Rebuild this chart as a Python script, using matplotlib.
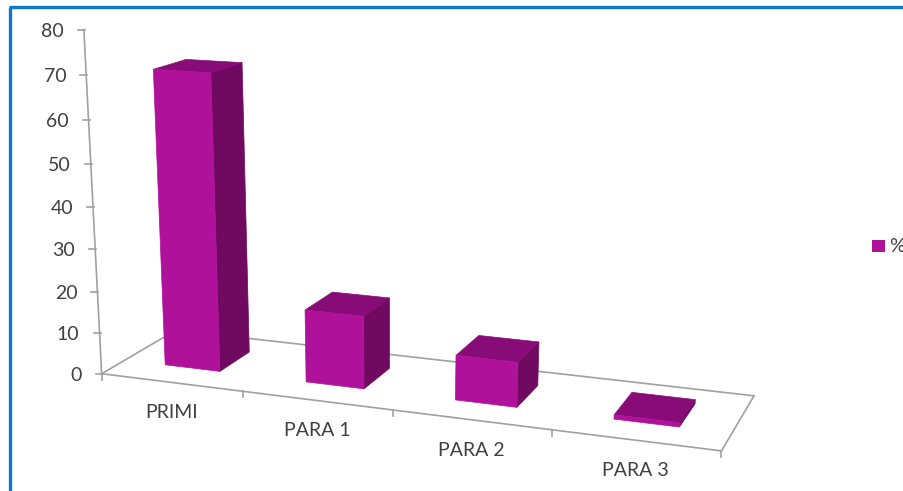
import numpy as np
import matplotlib
matplotlib.use("Agg")
import matplotlib.pyplot as plt
from matplotlib.patches import Polygon, Rectangle

plt.rcParams['font.family'] = ['Lato', 'DejaVu Sans']

categories = ["PRIMI", "PARA 1", "PARA 2", "PARA 3"]
values = [70.2, 17.3, 10.5, 1.0]
y_ticks = [0, 10, 20, 30, 40, 50, 60, 70, 80]
series_name = "%"

FRONT, SIDE, TOP = "#B0119A", "#6F0A60", "#880C78"
GREY, TEXT, BLUE = "#A0A0A0", "#404040", "#0F77C8"

# Camera calibration of the chart's perspective: (category, value, depth) -> pixel
calib = [
    ((0, 0, 0), (101, 373)), ((1, 0, 0), (243, 392)), ((2, 0, 0), (393, 412)),
    ((3, 0, 0), (551, 429)), ((4, 0, 0), (722, 450)), ((0, 0, 1), (176, 330)),
    ((4, 0, 1), (754, 396)), ((0, 80, 0), (83.5, 30)), ((0, 40, 0), (94, 206)),
]
vanish = (390, 5900)

rows = []
for (c, v, d), (u, w) in calib:
    u, w, v = u / 1000, w / 1000, v / 80
    rows.append([c, v, d, 1, 0, 0, 0, 0, -u*c, -u*v, -u*d, -u])
    rows.append([0, 0, 0, 0, c, v, d, 1, -w*c, -w*v, -w*d, -w])
vu, vw = vanish[0] / 1000, vanish[1] / 1000
rows.append([0, 1, 0, 0, 0, 0, 0, 0, 0, -vu, 0, 0])
rows.append([0, 0, 0, 0, 0, 1, 0, 0, 0, -vw, 0, 0])
P = np.linalg.svd(np.array(rows, float))[2][-1].reshape(3, 4)


def proj(c, v, d):
    h = P @ np.array([c, v / 80, d, 1.0])
    return h[0] / h[2] * 1000, h[1] / h[2] * 1000


fig = plt.figure(figsize=(9.04, 4.91), dpi=100)
ax = fig.add_axes([0, 0, 1, 1])
ax.set_xlim(0, 904)
ax.set_ylim(491, 0)
ax.axis("off")

# outer frame
ax.plot([10, 10], [491, 6.5], color=BLUE, lw=2.4, solid_capstyle="butt", zorder=5)
ax.plot([9, 904], [6.5, 6.5], color=BLUE, lw=2.4, solid_capstyle="butt", zorder=5)


def line(a, b, **kw):
    pa, pb = proj(*a), proj(*b)
    ax.plot([pa[0], pb[0]], [pa[1], pb[1]], color=GREY, lw=1.2, zorder=1, **kw)


n = len(categories)
line((0, 0, 0), (0, y_ticks[-1], 0))
line((0, 0, 0), (n, 0, 0))
line((0, 0, 0), (0, 0, 1))
line((0, 0, 1), (n, 0, 1))
line((n, 0, 0), (n, 0, 1))

for t in y_ticks:
    x, y = proj(0, t, 0)
    ax.plot([x - 6, x + 1], [y, y], color=GREY, lw=1.2, zorder=1)
    ax.text(x - 20, y + 1.5, str(t), ha="right", va="center", fontsize=14, color=TEXT)

for i in range(n + 1):
    x, y = proj(i, 0, 0)
    ax.plot([x, x], [y, y + 6], color=GREY, lw=1.2, zorder=1)

# bars
x_off, bar_w, z0, z1 = 0.295, 0.395, 0.30, 0.73
for i, val in enumerate(values):
    a, b = i + x_off, i + x_off + bar_w
    front = [proj(a, 0, z0), proj(b, 0, z0), proj(b, val, z0), proj(a, val, z0)]
    side = [proj(b, 0, z0), proj(b, 0, z1), proj(b, val, z1), proj(b, val, z0)]
    top = [proj(a, val, z0), proj(b, val, z0), proj(b, val, z1), proj(a, val, z1)]
    for pts, col in ((side, SIDE), (top, TOP), (front, FRONT)):
        ax.add_patch(Polygon(pts, closed=True, facecolor=col, edgecolor=col, lw=0.5, zorder=3))

# category labels
label_pos = [(172, 413), (317, 431), (471, 451), (635, 470)]
for name, (x, y) in zip(categories, label_pos):
    ax.text(x, y, name, ha="center", va="center", fontsize=14, color=TEXT)

# legend
ax.add_patch(Rectangle((872, 239.5), 13.5, 12, facecolor=FRONT, edgecolor="none"))
ax.text(889, 246, series_name, ha="left", va="center", fontsize=14, color=TEXT, clip_on=True)

fig.savefig("out.png", dpi=100)
